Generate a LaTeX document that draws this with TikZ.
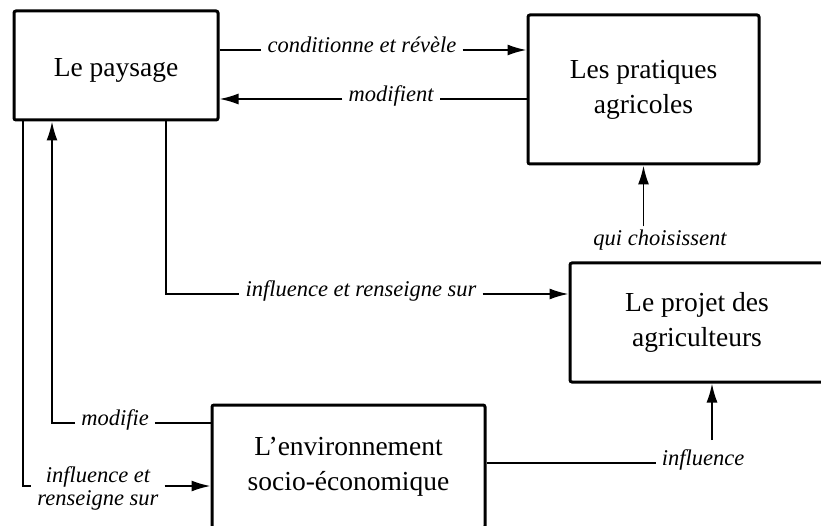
\documentclass[tikz,border=0pt]{standalone}
\usepackage{fontspec}
\setmainfont{Liberation Serif}
\usetikzlibrary{arrows.meta}
\begin{document}
\begin{tikzpicture}[x=1pt,y=-1pt,
 box/.style={draw, line width=3pt, rounded corners=2pt, align=center, font=\fontsize{27.5}{35}\selectfont, inner sep=0pt},
 lab/.style={font=\fontsize{22.5}{23}\selectfont\itshape, inner xsep=6pt, inner ysep=0pt, align=center},
 conn/.style={line width=1.8pt},
 arr/.style={conn, -{Latex[length=19pt,width=11pt]}}]
\useasboundingbox (0,0) rectangle (821,526);
\clip (0,0) rectangle (821,526);
\node[box, minimum width=204pt, minimum height=109pt] (pay) at (116,65.5) {\raisebox{-5pt}[\height][\depth]{Le paysage}};
\node[box, minimum width=231pt, minimum height=149pt] (pra) at (643.5,89.5) {Les pratiques\\agricoles};
\node[box, minimum width=254pt, minimum height=119pt] (pro) at (697,322.5) {Le projet des\\agriculteurs};
\node[box, minimum width=273pt, minimum height=123pt] (env) at (348.5,466.5) {L’environnement\\socio-économique};
% labels
\node[lab, anchor=mid] (l1) at (362,50) {conditionne et révèle};
\node[lab, anchor=mid] (l2) at (391,99) {modifient};
\node[lab, anchor=mid] (ir) at (361,294) {influence et renseigne sur};
\node[lab, anchor=mid] (qc) at (660,243) {qui choisissent};
\node[lab, anchor=mid] (inf) at (703,463) {influence};
\node[lab, anchor=mid] (mo) at (115,423) {modifie};
\node[lab] (ie) at (98,488) {influence et\\renseigne sur};
% connectors
\draw[conn] (pay.east |- l1.mid) -- (l1.west |- l1.mid);
\draw[arr] (l1.east |- l1.mid) -- (pra.west |- l1.mid);
\draw[conn] (pra.west |- l2.mid) -- (l2.east |- l2.mid);
\draw[arr] (l2.west |- l2.mid) -- (pay.east |- l2.mid);
\coordinate (c3) at (166,294);
\draw[conn] (pay.south -| c3) -- (c3) -- (ir.west |- c3);
\draw[arr] (ir.east |- c3) -- (pro.west |- c3);
\draw[arr, shorten <=3pt] (qc.north -| pra.south) -- (pra.south);
\draw[conn] (env.east |- inf.mid) -- (inf.west |- inf.mid);
\coordinate (ia) at (712,440);
\draw[arr] (ia) -- (ia |- pro.south);
\coordinate (c1) at (52,423);
\draw[arr] (mo.west |- mo.mid) -- (c1) -- (c1 |- pay.south);
\draw[conn] (mo.east |- mo.mid) -- (env.west |- mo.mid);
\coordinate (c2) at (23,486);
\draw[conn] (pay.south -| c2) -- (c2) -- (ie.west |- c2);
\draw[arr] (ie.east |- c2) -- (env.west |- c2);
\end{tikzpicture}
\end{document}
